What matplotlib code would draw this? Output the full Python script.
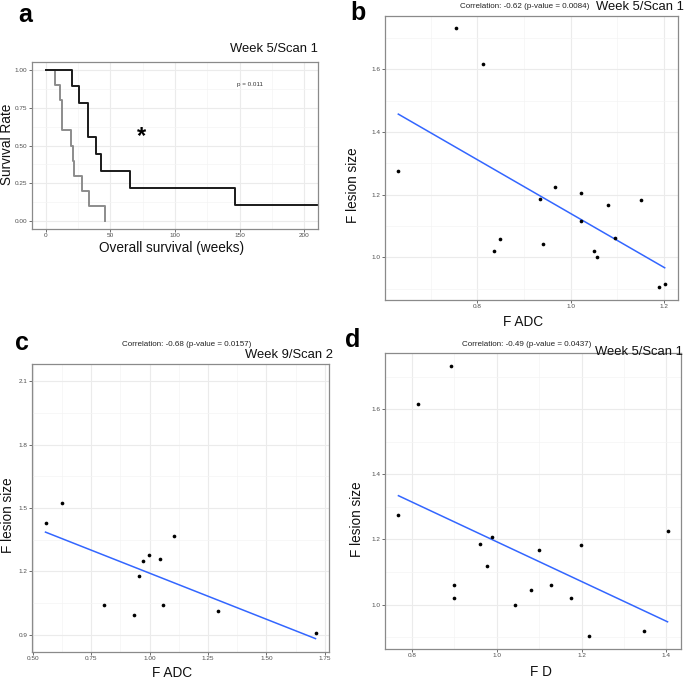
import numpy as np
import matplotlib
matplotlib.use("Agg")
import matplotlib.pyplot as plt
from matplotlib.ticker import MultipleLocator, FormatStrFormatter

plt.rcParams['font.family'] = ['Liberation Sans', 'DejaVu Sans']

# ---------------- data ----------------
# Panel a: Kaplan-Meier curves
km_black_t = [0, 20.6, 25.5, 32.4, 33.0, 39.0, 42.7, 65.0, 146.0, 210.0]
km_black_s = [1.0, 0.889, 0.778, 0.667, 0.556, 0.444, 0.333, 0.222, 0.111, 0.111]
km_gray_t = [0, 7.0, 11.0, 12.6, 19.6, 21.4, 22.0, 28.0, 33.7, 45.6]
km_gray_s = [1.0, 0.9, 0.8, 0.6, 0.5, 0.4, 0.3, 0.2, 0.1, 0.0]

# Panel b: F ADC vs lesion size (week 5)
lesion_size = [1.275, 1.731, 1.617, 1.020, 1.059, 1.185, 1.044, 1.225, 1.207,
               1.117, 1.020, 1.000, 1.166, 1.061, 1.182, 0.905, 0.916]
b_adc = [0.631, 0.755, 0.812, 0.835, 0.849, 0.935, 0.940, 0.967, 1.022,
         1.022, 1.049, 1.056, 1.079, 1.095, 1.150, 1.189, 1.201]
# Panel d: F D vs lesion size (week 5)
d_fd = [0.768, 0.892, 0.813, 0.898, 0.899, 0.961, 1.080, 1.403, 0.988,
        0.976, 1.176, 1.044, 1.100, 1.128, 1.199, 1.217, 1.348]
d_size = [1.275, 1.731, 1.617, 1.021, 1.059, 1.186, 1.044, 1.225, 1.207,
          1.117, 1.021, 1.000, 1.167, 1.060, 1.183, 0.905, 0.918]
# Panel c: week 9
c_adc = [0.554, 0.626, 0.804, 0.933, 0.954, 0.970, 0.996, 1.043, 1.055, 1.105, 1.291, 1.710]
c_size = [1.429, 1.526, 1.042, 0.991, 1.178, 1.247, 1.279, 1.258, 1.042, 1.366, 1.012, 0.906]

W, H = 685, 679
fig = plt.figure(figsize=(W / 100, H / 100), dpi=100)

def ax_px(l, t, r, b):
    return fig.add_axes([l / W, 1 - b / H, (r - l) / W, (b - t) / H])

GRID = '#ebebeb'
BORDER = '#8a8a8a'
TICKC = '#4d4d4d'

def style(ax):
    for s in ax.spines.values():
        s.set_color(BORDER)
        s.set_linewidth(0.9)
    ax.set_axisbelow(True)
    ax.grid(which='major', color=GRID, linewidth=0.8)
    ax.grid(which='minor', color='#f4f4f4', linewidth=0.5)
    ax.tick_params(which='major', length=2.0, width=0.6, color='#555555',
                   labelsize=4.6, labelcolor=TICKC, pad=1.2)
    ax.tick_params(which='minor', length=0)

def ftext(x, y, s, **kw):
    fig.text(x / W, 1 - y / H, s, **kw)

# ---------------- panel a ----------------
axa = ax_px(32, 62, 318, 229)
style(axa)
axa.step(km_gray_t, km_gray_s, where='post', color='#8c8c8c', lw=1.4)
axa.step(km_black_t, km_black_s, where='post', color='#1a1a1a', lw=1.4)
axa.set_xlim(-10.5, 210.5)
axa.set_ylim(-0.05, 1.05)
axa.xaxis.set_major_locator(MultipleLocator(50))
axa.xaxis.set_minor_locator(MultipleLocator(25))
axa.yaxis.set_major_locator(MultipleLocator(0.25))
axa.yaxis.set_minor_locator(MultipleLocator(0.125))
axa.yaxis.set_major_formatter(FormatStrFormatter('%.2f'))
axa.text(74, 0.56, '*', fontsize=17, fontweight='bold', ha='center', va='center')
axa.text(158, 0.90, 'p = 0.011', fontsize=4.5, ha='center', va='center', color='#333333')

# ---------------- scatter panels ----------------
def scatter_panel(ax, x, y):
    style(ax)
    ax.scatter(x, y, s=7, color='black', zorder=3, linewidths=0)
    k, c0 = np.polyfit(x, y, 1)
    xx = np.array([min(x), max(x)])
    ax.plot(xx, k * xx + c0, color='#3366FF', lw=1.1, zorder=2)
    xr = max(x) - min(x)
    ax.set_xlim(min(x) - 0.05 * xr, max(x) + 0.05 * xr)

axb = ax_px(385, 15.5, 678, 300)
scatter_panel(axb, b_adc, lesion_size)
yr = max(lesion_size) - min(lesion_size)
axb.set_ylim(min(lesion_size) - 0.05 * yr, max(lesion_size) + 0.05 * yr)
axb.xaxis.set_major_locator(MultipleLocator(0.2))
axb.xaxis.set_minor_locator(MultipleLocator(0.1))
axb.yaxis.set_major_locator(MultipleLocator(0.2))
axb.yaxis.set_minor_locator(MultipleLocator(0.1))
axb.xaxis.set_major_formatter(FormatStrFormatter('%.1f'))
axb.yaxis.set_major_formatter(FormatStrFormatter('%.1f'))

axc = ax_px(32, 364, 329, 652)
scatter_panel(axc, c_adc, c_size)
axc.set_ylim(0.818, 2.182)
axc.xaxis.set_major_locator(MultipleLocator(0.25))
axc.xaxis.set_minor_locator(MultipleLocator(0.125))
axc.yaxis.set_major_locator(MultipleLocator(0.3))
axc.yaxis.set_minor_locator(MultipleLocator(0.15))
axc.xaxis.set_major_formatter(FormatStrFormatter('%.2f'))
axc.yaxis.set_major_formatter(FormatStrFormatter('%.1f'))

axd = ax_px(385, 353, 681, 649)
scatter_panel(axd, d_fd, d_size)
yr = max(d_size) - min(d_size)
axd.set_ylim(min(d_size) - 0.05 * yr, max(d_size) + 0.05 * yr)
axd.xaxis.set_major_locator(MultipleLocator(0.2))
axd.xaxis.set_minor_locator(MultipleLocator(0.1))
axd.yaxis.set_major_locator(MultipleLocator(0.2))
axd.yaxis.set_minor_locator(MultipleLocator(0.1))
axd.xaxis.set_major_formatter(FormatStrFormatter('%.1f'))
axd.yaxis.set_major_formatter(FormatStrFormatter('%.1f'))

# ---------------- texts ----------------
big = dict(fontsize=9.4, color='#111111')
small = dict(fontsize=5.8, color='#222222')
panel = dict(fontsize=18, fontweight='bold', color='black', va='center', ha='center')

ftext(25, 15, 'a', **panel)
ftext(358, 13, 'b', **panel)
ftext(22, 343, 'c', **panel)
ftext(353, 340, 'd', **panel)

ftext(318, 49, 'Week 5/Scan 1', ha='right', va='center', **big)
ftext(525, 7, 'Correlation: -0.62 (p-value = 0.0084)', ha='center', va='center', **small)
ftext(684, 7, 'Week 5/Scan 1', ha='right', va='center', **big)
ftext(187, 344, 'Correlation: -0.68 (p-value = 0.0157)', ha='center', va='center', **small)
ftext(333, 355, 'Week 9/Scan 2', ha='right', va='center', **big)
ftext(527, 344, 'Correlation: -0.49 (p-value = 0.0437)', ha='center', va='center', **small)
ftext(683, 352, 'Week 5/Scan 1', ha='right', va='center', **big)

lab = dict(fontsize=9.8, color='#111111', ha='center', va='center')
ftext(172, 248, 'Overall survival (weeks)', **lab)
ftext(7.5, 144, 'Survival Rate', rotation=90, **lab)
ftext(523, 322, 'F ADC', **lab)
ftext(353, 185, 'F lesion size', rotation=90, **lab)
ftext(172, 673, 'F ADC', **lab)
ftext(8.5, 515, 'F lesion size', rotation=90, **lab)
ftext(541, 672, 'F D', **lab)
ftext(357, 519, 'F lesion size', rotation=90, **lab)

fig.savefig('out.png', dpi=100)
